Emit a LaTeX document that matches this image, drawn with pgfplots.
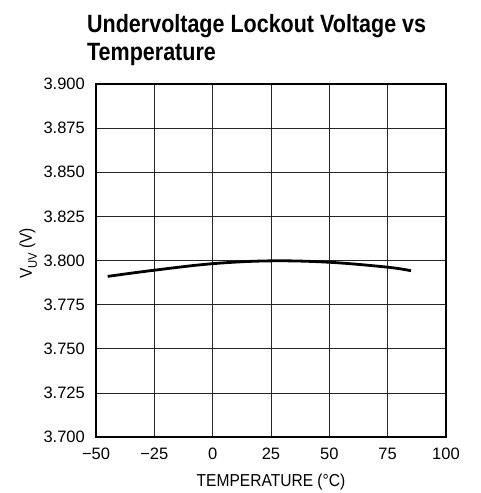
\documentclass[border=0pt]{standalone}
\usepackage{pgfplots}
\pgfplotsset{compat=1.18}
\usepackage{fontspec}
\setmainfont{Liberation Sans}
\newfontfamily\narrowfont{Liberation Sans}[FakeStretch=0.9]
\newfontfamily\titlefont{Liberation Sans}[FakeStretch=0.86]
\begin{document}
\begin{tikzpicture}[x=1pt,y=1pt]
\path[use as bounding box] (-96,-56) rectangle (384,437);
\begin{axis}[
  at={(0,0)}, anchor=south west,
  scale only axis, width=350pt, height=353pt,
  xmin=-50, xmax=100, ymin=3.7, ymax=3.9,
  xtick={-50,-25,0,25,50,75,100},
  xticklabels={−50,−25,0,25,50,75,100},
  ytick={3.7,3.725,3.75,3.775,3.8,3.825,3.85,3.875,3.9},
  yticklabels={3.700,3.725,3.750,3.775,3.800,3.825,3.850,3.875,3.900},
  major tick length=0pt,
  grid=major,
  major grid style={black!85, line width=0.7pt},
  axis line style={black, line width=1.2pt},
  tick label style={font=\fontsize{16.5}{18}\selectfont},
  xticklabel style={anchor=base, yshift=-22pt},
  yticklabel style={anchor=east, inner sep=0pt, xshift=-11pt},
  xlabel={TEMPERATURE (°C)},
  ylabel={V\raisebox{-0.28em}{\fontsize{12.5}{13}\selectfont UV} (V)},
  label style={font=\narrowfont\fontsize{17.3}{19}\selectfont},
  xlabel style={at={(axis description cs:0.5,-0.141)}, anchor=base},
  ylabel style={at={(axis description cs:-0.183,0.52)}, anchor=base},
]
\addplot[black, line width=2.8pt, smooth, tension=0.6] coordinates {
(-45,3.7910) (-25,3.7945) (0,3.7982) (25,3.7998) (50,3.7990) (75,3.7962) (85,3.7942)
};
\end{axis}
\node[anchor=base west, inner sep=0pt, font=\titlefont\fontsize{25}{27}\selectfont\bfseries] at (-9,404) {Undervoltage Lockout Voltage vs};
\node[anchor=base west, inner sep=0pt, font=\titlefont\fontsize{25}{27}\selectfont\bfseries] at (-9,376) {Temperature};
\end{tikzpicture}
\end{document}
